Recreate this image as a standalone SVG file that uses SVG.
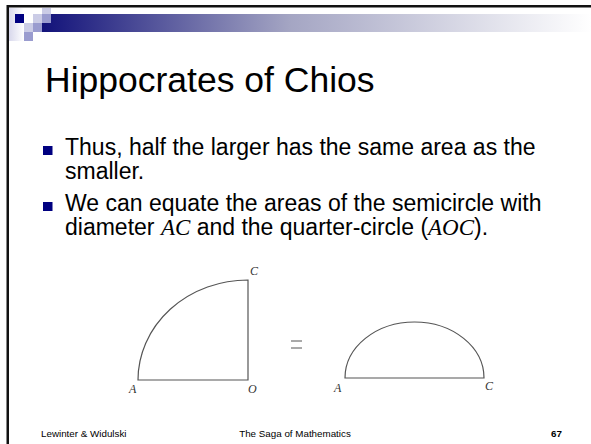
<svg xmlns="http://www.w3.org/2000/svg" width="591" height="444" viewBox="0 0 591 444">
<defs>
<linearGradient id="bar" x1="0" y1="0" x2="1" y2="0">
<stop offset="0" stop-color="#12127a"/>
<stop offset="0.45" stop-color="#a4a5c3"/>
<stop offset="1" stop-color="#ffffff"/>
</linearGradient>
<linearGradient id="pale" x1="0" y1="0" x2="1" y2="0">
<stop offset="0" stop-color="#d8d8ec"/>
<stop offset="1" stop-color="#ffffff"/>
</linearGradient>
</defs>
<style>
.body{font-family:"Liberation Sans",Arial,sans-serif;font-size:23px;fill:#000}
.it{font-family:"Liberation Serif","Times New Roman",serif;font-style:italic}
.lbl{font-family:"Liberation Serif","Times New Roman",serif;font-style:italic;font-size:12px;fill:#333}
.foot{font-family:"Liberation Sans",Arial,sans-serif;font-size:9.8px;fill:#000}
.shape{fill:none;stroke:#555;stroke-width:1.2}
</style>
<rect width="591" height="444" fill="#fff"/>
<g id="frame">
<rect x="7" y="5" width="584" height="2.5" fill="#111"/>
<rect x="6.5" y="5" width="2.5" height="439" fill="#111"/>
<rect x="9" y="8" width="15" height="33" fill="url(#pale)"/>
<rect x="42" y="14" width="549" height="18" fill="url(#bar)"/>
<rect x="15" y="14" width="9" height="9" fill="#000080"/>
<rect x="33" y="14" width="9" height="9" fill="#cbcce6"/>
<rect x="42" y="8" width="9" height="6" fill="#cbcce6"/>
<rect x="24" y="23" width="9" height="9" fill="#cbcce6"/>
<rect x="42" y="14" width="9" height="9" fill="#9a9ccf"/>
<rect x="33" y="23" width="9" height="9" fill="#9a9ccf"/>
<rect x="24" y="32" width="9" height="9" fill="#9a9ccf"/>
</g>
<g id="title">
<text x="45" y="92" font-family="Liberation Sans, Arial, sans-serif" font-size="35.5">Hippocrates of Chios</text>
</g>
<g id="bullets">
<rect x="43" y="146" width="9.5" height="9" fill="#000080"/>
<text class="body" x="65" y="155">Thus, half the larger has the same area as the</text>
<text class="body" x="65" y="179">smaller.</text>
<rect x="43" y="202" width="9.5" height="9" fill="#000080"/>
<text class="body" x="65" y="211">We can equate the areas of the semicircle with</text>
<text class="body" x="65" y="235">diameter <tspan class="it">AC</tspan> and the quarter-circle (<tspan class="it">AOC</tspan>).</text>
</g>
<g id="quarter">
<path class="shape" d="M138,380 A110,100 0 0 1 248,280 L248,380 Z"/>
<text class="lbl" x="250" y="275">C</text>
<text class="lbl" x="129" y="393">A</text>
<text class="lbl" x="248" y="393">O</text>
</g>
<g id="equals">
<line x1="291" y1="341" x2="302" y2="341" stroke="#555" stroke-width="1"/>
<line x1="291" y1="348" x2="302" y2="348" stroke="#555" stroke-width="1"/>
</g>
<g id="semi">
<path class="shape" d="M345,378 A69.5,56 0 0 1 484,378 Z"/>
<text class="lbl" x="334" y="392">A</text>
<text class="lbl" x="485" y="390">C</text>
</g>
<g id="footer">
<text class="foot" x="41" y="437">Lewinter &amp; Widulski</text>
<text class="foot" x="295" y="437" text-anchor="middle">The Saga of Mathematics</text>
<text class="foot" x="562" y="437" text-anchor="end" font-weight="bold">67</text>
</g>
</svg>
